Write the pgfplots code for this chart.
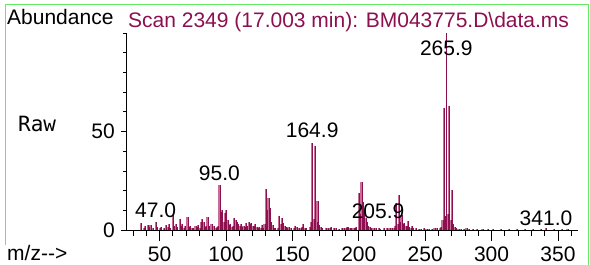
\documentclass[border=0pt]{standalone}
\usepackage{pgfplots}
\usepackage{pgfplotstable}
\pgfplotsset{compat=1.18}
\usepackage{fontspec}
\setmainfont{Liberation Sans}
\newfontfamily\rawfont{DejaVu Sans Mono}
\definecolor{maroonA}{RGB}{140,16,80}
\definecolor{pinkA}{RGB}{200,110,150}
\definecolor{frameG}{RGB}{100,235,100}

\pgfplotstableread{
mz ab
36 3.8
38 1.2
39 2.2
41 2.5
42 1.5
43 2.5
45 1.2
47 4.2
48 1.5
50 1
51 1.5
53 1.2
55 2.5
56 1.5
57 3
58 1
60 7.5
61 2
62 3
63 1.5
65 5.5
66 2
67 3
68 1.2
69 2
71 6.7
72 1.5
73 2
74 1
75 1.2
77 2
78 1.5
79 2.5
80 1
81 4
82 5.8
83 4
84 1.5
85 2
86 6.5
87 2
89 3
91 2
92 1.2
93 1.5
94 2
95 23
96 9
97 10
98 4
99 8.5
100 10
101 5
102 2.5
103 3
104 1.5
105 2
106 6
107 5
108 4
109 3
110 2
111 3
112 1.5
113 2
114 1.5
115 3.5
116 2
117 4
118 3
119 3.5
120 2
121 2
122 3
123 1.5
124 1.2
125 1.5
126 1
127 2.5
128 1.2
129 3
130 21
131 10
132 16
133 11
134 4
135 2.5
136 1
137 1
139 1.2
140 7
141 3
142 6
143 3.5
144 2
145 1.5
146 1
147 1.5
149 0.8
151 1.2
152 2
153 1.5
155 0.8
156 1
157 1.5
158 3
159 1.2
160 0.8
163 1.5
164 4
164.9 44.2
166 5.5
166.9 42.5
168 4
168.9 14.7
170 2.5
171 1.5
172 0.8
175 0.8
177 1
178 1.2
179 1.5
181 0.8
183 0.8
185 0.6
187 0.8
189 1
190 1.2
191 1.5
192 1.5
193 1.2
194 0.8
196 0.8
197 1
198 1.5
199.9 18.7
201 8
201.9 24.5
203 14
204 10
205 6
205.9 4.2
207 2
208 1.5
209 1
211 0.8
213 0.8
215 0.8
216 0.6
219 0.8
221 0.8
223 0.8
225 0.8
226 1
227 2
228 13.7
229 3
230 17.8
231 4
232 7.8
233 3
234 3.5
235 2
236 2
237 4.5
238 1.5
239 1
240 2
241 1
243 0.8
245 0.6
247 0.6
249 0.8
251 0.6
253 0.6
255 0.6
257 0.8
259 0.8
261 1
262 1.5
263 5
263.9 62
265 7
267 8
267.9 63
269 5
269.9 20.5
271 3
272 1.5
273 1
275 0.6
277 0.6
279 0.6
281 0.8
283 0.6
286 0.5
289 0.5
293 0.5
297 0.5
301 0.5
307 0.5
313 0.5
319 0.5
325 0.5
331 0.6
337 0.5
341 0.8
347 0.5
353 0.5
357 0.5
}\spectrum

\begin{document}
\fontsize{21bp}{25bp}\selectfont
\begin{tikzpicture}
\useasboundingbox (-126bp,-35bp) rectangle (464bp,230bp);
\draw[frameG, line width=1bp] (-120bp,-60bp) -- (-120bp,225bp) -- (462bp,225bp) -- (462bp,-60bp);
\fill[white] (-125bp,-40bp) rectangle (-60bp,-15bp);
\node[anchor=base west, inner sep=0] at (-119bp,-30.6bp) {m/z-{}-{}>};
\node[anchor=base west, inner sep=0] at (-119bp,205bp) {Abundance};
\node[anchor=base west, inner sep=0, text=maroonA] at (2bp,202bp) {Scan 2349 (17.003 min): BM043775.D\textbackslash data.ms};
\node[anchor=base west, inner sep=0] at (-108bp,98bp) {\rawfont Raw};
\begin{axis}[
  at={(0,0)}, anchor=south west, scale only axis,
  width=452bp, height=197bp,
  xmin=24.7, xmax=365.1, ymin=0, ymax=100,
  axis lines*=left,
  axis line style={black, line width=0.8bp},
  xtick={50,100,...,350}, minor xtick={30,40,...,360},
  ytick={0,50}, minor ytick={10,20,...,100},
  tick align=outside,
  major tick length=11bp, minor tick length=6bp,
  tick style={black, line width=0.8bp},
  minor y tick style={/pgfplots/minor tick length=3bp},
  major y tick style={/pgfplots/major tick length=5bp},
  /pgf/number format/assume math mode=true,
  xticklabel style={inner sep=0pt, yshift=-6bp},
  yticklabel style={inner sep=0pt},
  clip=false,
]
\addplot[ycomb, pinkA, line width=2bp, no markers] table[x=mz,y=ab]{\spectrum};
\addplot[ycomb, maroonA, line width=0.7bp, no markers, xshift=0.6bp] table[x=mz,y=ab]{\spectrum};
\addplot[ycomb, maroonA, line width=1bp, no markers] coordinates {(265.9,100)};
\node[anchor=base, inner sep=0] at (axis cs:47,6.35) {47.0};
\node[anchor=base, inner sep=0] at (axis cs:95,25) {95.0};
\node[anchor=base, inner sep=0] at (axis cs:164.9,47) {164.9};
\node[anchor=base, inner sep=0] at (axis cs:214.5,5.85) {205.9};
\node[anchor=base, inner sep=0] at (axis cs:265.9,88.8) {265.9};
\node[anchor=base, inner sep=0] at (axis cs:341,2.5) {341.0};
\end{axis}
\end{tikzpicture}
\end{document}
